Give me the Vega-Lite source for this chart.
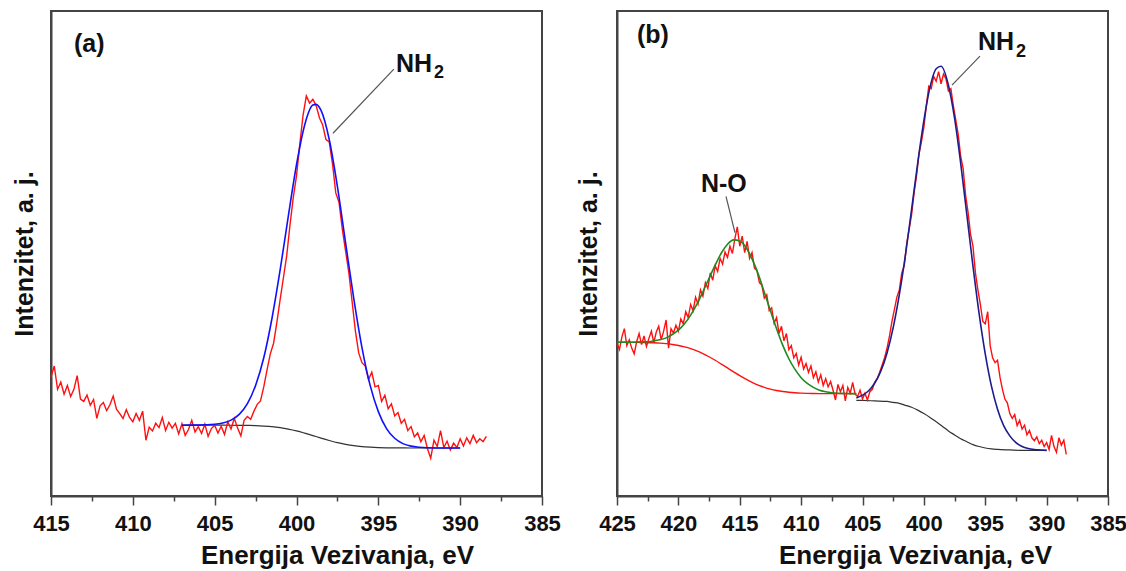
{
  "$schema": "https://vega.github.io/schema/vega-lite/v6.json",
  "background": "white",
  "padding": {"left": 11, "top": 10, "right": 5, "bottom": 0},
  "bounds": "flush",
  "spacing": 75,
  "config": {
    "view": {"stroke": "#444", "strokeWidth": 2},
    "font": "Liberation Sans"
  },
  "datasets": {
    "a_raw": [
      {"x":415.0,"y":24.5},{"x":414.8,"y":26.8},{"x":414.6,"y":22.0},{"x":414.4,"y":23.5},{"x":414.2,"y":21.0},{"x":414.0,"y":22.8},{"x":413.8,"y":20.5},{"x":413.6,"y":22.0},{"x":413.4,"y":24.8},{"x":413.2,"y":20.0},
      {"x":413.0,"y":19.5},{"x":412.8,"y":20.8},{"x":412.6,"y":18.7},{"x":412.4,"y":19.9},{"x":412.2,"y":16.0},{"x":412.0,"y":18.6},{"x":411.8,"y":19.3},{"x":411.6,"y":17.6},{"x":411.4,"y":18.8},{"x":411.2,"y":20.6},
      {"x":411.0,"y":17.9},{"x":410.8,"y":17.0},{"x":410.6,"y":16.0},{"x":410.4,"y":17.8},{"x":410.2,"y":16.2},{"x":410.0,"y":15.3},{"x":409.8,"y":17.0},{"x":409.6,"y":15.6},{"x":409.4,"y":17.5},{"x":409.2,"y":11.5},
      {"x":409.0,"y":14.2},{"x":408.8,"y":13.4},{"x":408.6,"y":15.0},{"x":408.4,"y":14.1},{"x":408.2,"y":16.2},{"x":408.0,"y":13.5},{"x":407.8,"y":15.2},{"x":407.6,"y":14.0},{"x":407.4,"y":15.0},{"x":407.2,"y":12.8},
      {"x":407.0,"y":14.9},{"x":406.8,"y":12.5},{"x":406.6,"y":13.7},{"x":406.4,"y":15.6},{"x":406.2,"y":13.2},{"x":406.0,"y":14.3},{"x":405.8,"y":12.9},{"x":405.6,"y":14.8},{"x":405.4,"y":12.3},{"x":405.2,"y":13.9},
      {"x":405.0,"y":14.6},{"x":404.8,"y":13.0},{"x":404.6,"y":14.4},{"x":404.4,"y":12.7},{"x":404.2,"y":15.3},{"x":404.0,"y":13.8},{"x":403.8,"y":16.0},{"x":403.6,"y":14.0},{"x":403.4,"y":12.4},{"x":403.2,"y":15.6},
      {"x":403.0,"y":16.4},{"x":402.8,"y":15.8},{"x":402.6,"y":17.5},{"x":402.4,"y":18.9},{"x":402.2,"y":19.6},{"x":402.0,"y":22.5},{"x":401.8,"y":26.0},{"x":401.6,"y":29.3},{"x":401.4,"y":31.5},{"x":401.2,"y":35.8},
      {"x":401.0,"y":40.5},{"x":400.8,"y":45.0},{"x":400.6,"y":49.5},{"x":400.4,"y":55.8},{"x":400.2,"y":61.5},{"x":400.0,"y":66.0},{"x":399.8,"y":72.5},{"x":399.6,"y":78.5},{"x":399.4,"y":82.5},{"x":399.2,"y":81.0},
      {"x":399.0,"y":81.8},{"x":398.8,"y":80.5},{"x":398.6,"y":78.0},{"x":398.4,"y":76.5},{"x":398.2,"y":73.5},{"x":398.0,"y":73.0},{"x":397.8,"y":68.5},{"x":397.6,"y":62.5},{"x":397.4,"y":60.5},{"x":397.2,"y":55.0},
      {"x":397.0,"y":50.5},{"x":396.8,"y":46.0},{"x":396.6,"y":40.0},{"x":396.4,"y":34.0},{"x":396.2,"y":29.5},{"x":396.0,"y":27.5},{"x":395.8,"y":26.8},{"x":395.6,"y":24.0},{"x":395.4,"y":25.5},{"x":395.2,"y":22.5},
      {"x":395.0,"y":22.8},{"x":394.8,"y":19.5},{"x":394.6,"y":20.8},{"x":394.4,"y":18.0},{"x":394.2,"y":19.0},{"x":394.0,"y":16.5},{"x":393.8,"y":17.2},{"x":393.6,"y":15.0},{"x":393.4,"y":15.8},{"x":393.2,"y":13.5},
      {"x":393.0,"y":14.3},{"x":392.8,"y":12.2},{"x":392.6,"y":13.0},{"x":392.4,"y":11.2},{"x":392.2,"y":12.5},{"x":392.0,"y":9.8},{"x":391.8,"y":7.8},{"x":391.6,"y":11.5},{"x":391.4,"y":10.2},{"x":391.2,"y":13.5},
      {"x":391.0,"y":10.0},{"x":390.8,"y":11.3},{"x":390.6,"y":9.5},{"x":390.4,"y":10.9},{"x":390.2,"y":10.0},{"x":390.0,"y":11.8},{"x":389.8,"y":10.3},{"x":389.6,"y":12.0},{"x":389.4,"y":10.8},{"x":389.2,"y":12.5},
      {"x":389.0,"y":11.0},{"x":388.8,"y":11.8},{"x":388.6,"y":11.2},{"x":388.4,"y":12.3}
    ],
    "a_fit": [
      {"x":407,"y":14.6},{"x":406,"y":14.62},{"x":405,"y":14.78},{"x":404.5,"y":15.06},{"x":404,"y":15.65},{"x":403.5,"y":16.84},{"x":403,"y":19.05},{"x":402.5,"y":22.8},{"x":402,"y":28.5},{"x":401.5,"y":36.6},
      {"x":401,"y":46.6},{"x":400.5,"y":57.7},{"x":400,"y":68.3},{"x":399.5,"y":76.5},{"x":399,"y":80.6},{"x":398.8,"y":80.75},{"x":398.5,"y":79.5},{"x":398,"y":73.5},{"x":397.5,"y":63.8},{"x":397,"y":52.2},
      {"x":396.5,"y":40.7},{"x":396,"y":30.6},{"x":395.5,"y":22.8},{"x":395,"y":17.4},{"x":394.5,"y":13.9},{"x":394,"y":11.9},{"x":393.5,"y":10.8},{"x":393,"y":10.28},{"x":392.5,"y":10.05},{"x":392,"y":9.95},
      {"x":391,"y":9.9},{"x":390,"y":9.9}
    ],
    "a_bg": [
      {"x":407,"y":14.6},{"x":405,"y":14.6},{"x":404,"y":14.59},{"x":403,"y":14.55},{"x":402.5,"y":14.51},{"x":402,"y":14.42},{"x":401.5,"y":14.29},{"x":401,"y":14.08},{"x":400.5,"y":13.79},{"x":400,"y":13.42},
      {"x":399.5,"y":12.96},{"x":399,"y":12.46},{"x":398.5,"y":11.94},{"x":398,"y":11.45},{"x":397.5,"y":11.0},{"x":397,"y":10.65},{"x":396.5,"y":10.37},{"x":396,"y":10.18},{"x":395.5,"y":10.06},{"x":395,"y":9.98},
      {"x":394.5,"y":9.94},{"x":394,"y":9.92},{"x":393,"y":9.9},{"x":390,"y":9.9}
    ],
    "a_lab": [
      {"x":413.6,"y":91.5,"t":"(a)"},
      {"x":393.92,"y":87.4,"t":"NH"}
    ],
    "a_sub": [
      {"x":391.6,"y":86.2,"t":"2"}
    ],
    "a_lead": [
      {"x":394.05,"y":88.0,"x2":397.77,"y2":74.8}
    ],
    "b_raw": [
      {"x":425.0,"y":31.5},{"x":424.8,"y":30.2},{"x":424.6,"y":32.8},{"x":424.4,"y":34.5},{"x":424.2,"y":31.0},{"x":424.0,"y":32.2},{"x":423.8,"y":30.5},{"x":423.6,"y":29.3},{"x":423.4,"y":31.8},{"x":423.2,"y":33.5},
      {"x":423.0,"y":31.2},{"x":422.8,"y":33.0},{"x":422.6,"y":30.8},{"x":422.4,"y":32.5},{"x":422.2,"y":34.0},{"x":422.0,"y":31.6},{"x":421.8,"y":33.8},{"x":421.6,"y":35.0},{"x":421.4,"y":32.2},{"x":421.2,"y":34.0},
      {"x":421.0,"y":36.3},{"x":420.8,"y":30.5},{"x":420.6,"y":34.5},{"x":420.4,"y":33.6},{"x":420.2,"y":35.2},{"x":420.0,"y":34.0},{"x":419.8,"y":36.5},{"x":419.6,"y":35.5},{"x":419.4,"y":38.0},{"x":419.2,"y":36.8},
      {"x":419.0,"y":39.5},{"x":418.8,"y":38.2},{"x":418.6,"y":41.0},{"x":418.4,"y":39.6},{"x":418.2,"y":42.5},{"x":418.0,"y":41.2},{"x":417.8,"y":44.0},{"x":417.6,"y":42.8},{"x":417.4,"y":46.0},{"x":417.2,"y":44.5},
      {"x":417.0,"y":47.5},{"x":416.8,"y":46.3},{"x":416.6,"y":49.0},{"x":416.4,"y":47.8},{"x":416.2,"y":50.3},{"x":416.0,"y":49.2},{"x":415.8,"y":51.5},{"x":415.6,"y":50.0},{"x":415.4,"y":53.0},{"x":415.2,"y":55.5},
      {"x":415.0,"y":51.5},{"x":414.8,"y":53.6},{"x":414.6,"y":50.2},{"x":414.4,"y":52.5},{"x":414.2,"y":49.0},{"x":414.0,"y":50.2},{"x":413.8,"y":47.0},{"x":413.6,"y":46.5},{"x":413.4,"y":44.0},{"x":413.2,"y":43.5},
      {"x":413.0,"y":40.8},{"x":412.8,"y":41.5},{"x":412.6,"y":38.2},{"x":412.4,"y":38.8},{"x":412.2,"y":35.6},{"x":412.0,"y":36.8},{"x":411.8,"y":33.5},{"x":411.6,"y":35.0},{"x":411.4,"y":32.0},{"x":411.2,"y":33.5},
      {"x":411.0,"y":30.2},{"x":410.8,"y":31.0},{"x":410.6,"y":28.5},{"x":410.4,"y":29.4},{"x":410.2,"y":27.0},{"x":410.0,"y":28.6},{"x":409.8,"y":26.2},{"x":409.6,"y":27.3},{"x":409.4,"y":25.5},{"x":409.2,"y":26.8},
      {"x":409.0,"y":24.4},{"x":408.8,"y":25.6},{"x":408.6,"y":23.5},{"x":408.4,"y":25.0},{"x":408.2,"y":22.8},{"x":408.0,"y":24.2},{"x":407.8,"y":22.5},{"x":407.6,"y":23.6},{"x":407.4,"y":21.8},{"x":407.2,"y":19.8},
      {"x":407.0,"y":23.0},{"x":406.8,"y":21.5},{"x":406.6,"y":22.8},{"x":406.4,"y":19.6},{"x":406.2,"y":22.4},{"x":406.0,"y":21.2},{"x":405.8,"y":23.4},{"x":405.6,"y":21.0},{"x":405.4,"y":20.5},{"x":405.2,"y":21.8},
      {"x":405.0,"y":20.0},{"x":404.8,"y":21.2},{"x":404.6,"y":19.8},{"x":404.4,"y":21.5},{"x":404.2,"y":22.0},{"x":404.0,"y":23.5},{"x":403.8,"y":24.2},{"x":403.6,"y":25.5},{"x":403.4,"y":27.0},{"x":403.2,"y":28.5},
      {"x":403.0,"y":30.5},{"x":402.8,"y":33.0},{"x":402.6,"y":36.0},{"x":402.4,"y":38.5},{"x":402.2,"y":41.0},{"x":402.0,"y":42.5},{"x":401.8,"y":46.0},{"x":401.6,"y":47.5},{"x":401.4,"y":52.0},{"x":401.2,"y":55.0},
      {"x":401.0,"y":58.0},{"x":400.8,"y":62.5},{"x":400.6,"y":66.0},{"x":400.4,"y":70.5},{"x":400.2,"y":73.0},{"x":400.0,"y":76.0},{"x":399.8,"y":80.5},{"x":399.6,"y":84.5},{"x":399.4,"y":84.0},{"x":399.2,"y":86.5},
      {"x":399.0,"y":85.5},{"x":398.8,"y":87.5},{"x":398.6,"y":85.0},{"x":398.4,"y":87.0},{"x":398.2,"y":86.0},{"x":398.0,"y":83.5},{"x":397.8,"y":84.0},{"x":397.6,"y":80.5},{"x":397.4,"y":77.5},{"x":397.2,"y":74.5},
      {"x":397.0,"y":70.0},{"x":396.8,"y":67.5},{"x":396.6,"y":62.0},{"x":396.4,"y":58.5},{"x":396.2,"y":54.0},{"x":396.0,"y":51.5},{"x":395.8,"y":46.0},{"x":395.6,"y":42.5},{"x":395.4,"y":39.5},{"x":395.2,"y":36.0},
      {"x":395.0,"y":35.5},{"x":394.8,"y":38.0},{"x":394.6,"y":31.0},{"x":394.4,"y":28.5},{"x":394.2,"y":27.5},{"x":394.0,"y":28.0},{"x":393.8,"y":24.5},{"x":393.6,"y":22.0},{"x":393.4,"y":20.0},{"x":393.2,"y":19.2},
      {"x":393.0,"y":17.0},{"x":392.8,"y":16.0},{"x":392.6,"y":16.8},{"x":392.4,"y":14.5},{"x":392.2,"y":15.6},{"x":392.0,"y":13.8},{"x":391.8,"y":14.6},{"x":391.6,"y":12.6},{"x":391.4,"y":13.5},{"x":391.2,"y":12.0},
      {"x":391.0,"y":11.4},{"x":390.8,"y":12.2},{"x":390.6,"y":10.8},{"x":390.4,"y":11.5},{"x":390.2,"y":10.2},{"x":390.0,"y":11.0},{"x":389.8,"y":9.6},{"x":389.6,"y":12.5},{"x":389.4,"y":10.2},{"x":389.2,"y":9.0},
      {"x":389.0,"y":12.0},{"x":388.8,"y":10.5},{"x":388.6,"y":11.5},{"x":388.4,"y":8.6}
    ],
    "b_green": [
      {"x":425,"y":31.7},{"x":424,"y":31.7},{"x":423,"y":31.8},{"x":422.5,"y":31.8},{"x":422,"y":32.0},{"x":421.5,"y":32.2},{"x":421,"y":32.6},{"x":420.5,"y":33.3},{"x":420,"y":34.2},{"x":419.5,"y":35.5},
      {"x":419,"y":37.3},{"x":418.5,"y":39.5},{"x":418,"y":42.1},{"x":417.5,"y":44.9},{"x":417,"y":47.6},{"x":416.5,"y":50.1},{"x":416,"y":51.9},{"x":415.5,"y":52.8},{"x":415,"y":52.6},{"x":414.5,"y":51.3},
      {"x":414,"y":48.9},{"x":413.5,"y":45.8},{"x":413,"y":42.0},{"x":412.5,"y":38.2},{"x":412,"y":34.5},{"x":411.5,"y":31.1},{"x":411,"y":28.3},{"x":410.5,"y":26.1},{"x":410,"y":24.4},{"x":409.5,"y":23.2},
      {"x":409,"y":22.4},{"x":408.5,"y":21.8},{"x":408,"y":21.5},{"x":407.5,"y":21.3},{"x":407,"y":21.2},{"x":406.5,"y":21.15},{"x":406,"y":21.1},{"x":405.5,"y":21.1}
    ],
    "b_redbg": [
      {"x":425,"y":31.7},{"x":424,"y":31.69},{"x":423,"y":31.66},{"x":422,"y":31.59},{"x":421.5,"y":31.52},{"x":421,"y":31.41},{"x":420.5,"y":31.25},{"x":420,"y":31.04},{"x":419.5,"y":30.76},{"x":419,"y":30.39},
      {"x":418.5,"y":29.92},{"x":418,"y":29.36},{"x":417.5,"y":28.71},{"x":417,"y":27.99},{"x":416.5,"y":27.2},{"x":416,"y":26.4},{"x":415.5,"y":25.6},{"x":415,"y":24.81},{"x":414.5,"y":24.09},{"x":414,"y":23.44},
      {"x":413.5,"y":22.88},{"x":413,"y":22.41},{"x":412.5,"y":22.04},{"x":412,"y":21.76},{"x":411.5,"y":21.54},{"x":411,"y":21.39},{"x":410.5,"y":21.28},{"x":410,"y":21.21},{"x":409,"y":21.13},{"x":408,"y":21.11},
      {"x":407,"y":21.1},{"x":405.5,"y":21.1}
    ],
    "b_navy": [
      {"x":405.5,"y":20.2},{"x":405,"y":20.8},{"x":404.5,"y":21.7},{"x":404,"y":23.3},{"x":403.5,"y":25.8},{"x":403,"y":29.5},{"x":402.5,"y":34.7},{"x":402,"y":41.5},{"x":401.5,"y":49.7},{"x":401,"y":59.1},
      {"x":400.5,"y":68.7},{"x":400,"y":77.4},{"x":399.5,"y":84.3},{"x":399,"y":88.1},{"x":398.6,"y":88.6},{"x":398,"y":84.7},{"x":397.5,"y":77.9},{"x":397,"y":68.6},{"x":396.5,"y":58.0},{"x":396,"y":47.4},
      {"x":395.5,"y":37.6},{"x":395,"y":29.3},{"x":394.5,"y":22.7},{"x":394,"y":17.9},{"x":393.5,"y":14.5},{"x":393,"y":12.4},{"x":392.5,"y":11.0},{"x":392,"y":10.2},{"x":391.5,"y":9.8},{"x":391,"y":9.6},
      {"x":390.5,"y":9.5},{"x":390,"y":9.4}
    ],
    "b_black": [
      {"x":405.5,"y":19.7},{"x":405,"y":19.7},{"x":404,"y":19.6},{"x":403,"y":19.5},{"x":402.5,"y":19.3},{"x":402,"y":19.1},{"x":401.5,"y":18.7},{"x":401,"y":18.3},{"x":400.5,"y":17.7},{"x":400,"y":17.0},
      {"x":399.5,"y":16.2},{"x":399,"y":15.3},{"x":398.5,"y":14.4},{"x":398,"y":13.4},{"x":397.5,"y":12.6},{"x":397,"y":11.8},{"x":396.5,"y":11.2},{"x":396,"y":10.6},{"x":395.5,"y":10.2},{"x":395,"y":9.9},
      {"x":394.5,"y":9.7},{"x":394,"y":9.6},{"x":393,"y":9.5},{"x":392,"y":9.4},{"x":390,"y":9.4}
    ],
    "b_lab": [
      {"x":423.37,"y":93.4,"t":"(b)"},
      {"x":418.16,"y":62.6,"t":"N-O"},
      {"x":395.59,"y":91.9,"t":"NH"}
    ],
    "b_sub": [
      {"x":392.5,"y":90.5,"t":"2"}
    ],
    "b_lead": [
      {"x":395.43,"y":90.7,"x2":397.71,"y2":84.7},
      {"x":416.12,"y":61.8,"x2":415.39,"y2":54.3}
    ]
  },
  "hconcat": [
    {
      "width": 491,
      "height": 485,
      "encoding": {
        "x": {
          "field": "x", "type": "quantitative",
          "scale": {"domain": [385, 415], "reverse": true, "nice": false, "zero": false},
          "axis": {
            "title": "Energija Vezivanja, eV",
            "values": [385, 387.5, 390, 392.5, 395, 397.5, 400, 402.5, 405, 407.5, 410, 412.5, 415],
            "labelExpr": "datum.value % 5 === 0 ? format(datum.value, 'd') : ''",
            "tickSize": {"condition": {"test": "datum.value % 5 === 0", "value": 9}, "value": 5},
            "tickColor": "#444", "tickWidth": 1.5,
            "domainColor": "#444", "domainWidth": 2,
            "grid": false,
            "labelFont": "Liberation Sans Narrow, Arial Narrow, Liberation Sans",
            "labelFontWeight": "bold", "labelFontSize": 22, "labelColor": "#111",
            "labelPadding": 8, "labelOverlap": false, "labelFlush": false,
            "titleFont": "Liberation Sans", "titleFontWeight": "bold", "titleFontSize": 26, "titleColor": "#111",
            "titleX": 286, "titleY": 67, "titleBaseline": "alphabetic", "titleAlign": "center"
          }
        },
        "y": {
          "field": "y", "type": "quantitative",
          "scale": {"domain": [0, 100], "nice": false, "zero": false},
          "axis": {
            "title": "Intenzitet, a. j.",
            "ticks": false, "labels": false, "grid": false,
            "domainColor": "#444", "domainWidth": 2,
            "titleFont": "Liberation Sans", "titleFontWeight": "bold", "titleFontSize": 25, "titleColor": "#111",
            "titlePadding": 19, "titleBaseline": "alphabetic"
          }
        }
      },
      "layer": [
        {"data": {"name": "a_bg"}, "mark": {"type": "line", "color": "#333", "strokeWidth": 1.2, "interpolate": "monotone"}},
        {"data": {"name": "a_raw"}, "mark": {"type": "line", "color": "#ff1010", "strokeWidth": 1.4}},
        {"data": {"name": "a_fit"}, "mark": {"type": "line", "color": "#1010ff", "strokeWidth": 1.6, "interpolate": "monotone"}},
        {"data": {"name": "a_lead"}, "mark": {"type": "rule", "color": "#555", "strokeWidth": 1.2},
         "encoding": {"x2": {"field": "x2"}, "y2": {"field": "y2"}}},
        {"data": {"name": "a_lab"}, "mark": {"type": "text", "align": "left", "baseline": "alphabetic", "font": "Liberation Sans", "fontSize": 25, "fontWeight": "bold", "color": "#111"},
         "encoding": {"text": {"field": "t"}}},
        {"data": {"name": "a_sub"}, "mark": {"type": "text", "align": "left", "baseline": "alphabetic", "font": "Liberation Sans", "fontSize": 18, "fontWeight": "bold", "color": "#111"},
         "encoding": {"text": {"field": "t"}}}
      ]
    },
    {
      "width": 491,
      "height": 485,
      "encoding": {
        "x": {
          "field": "x", "type": "quantitative",
          "scale": {"domain": [385, 425], "reverse": true, "nice": false, "zero": false},
          "axis": {
            "title": "Energija Vezivanja, eV",
            "values": [385, 387.5, 390, 392.5, 395, 397.5, 400, 402.5, 405, 407.5, 410, 412.5, 415, 417.5, 420, 422.5, 425],
            "labelExpr": "datum.value % 5 === 0 ? format(datum.value, 'd') : ''",
            "tickSize": {"condition": {"test": "datum.value % 5 === 0", "value": 9}, "value": 5},
            "tickColor": "#444", "tickWidth": 1.5,
            "domainColor": "#444", "domainWidth": 2,
            "grid": false,
            "labelFont": "Liberation Sans Narrow, Arial Narrow, Liberation Sans",
            "labelFontWeight": "bold", "labelFontSize": 22, "labelColor": "#111",
            "labelPadding": 8, "labelOverlap": false, "labelFlush": false,
            "titleFont": "Liberation Sans", "titleFontWeight": "bold", "titleFontSize": 26, "titleColor": "#111",
            "titleX": 298, "titleY": 67, "titleBaseline": "alphabetic", "titleAlign": "center"
          }
        },
        "y": {
          "field": "y", "type": "quantitative",
          "scale": {"domain": [0, 100], "nice": false, "zero": false},
          "axis": {
            "title": "Intenzitet, a. j.",
            "ticks": false, "labels": false, "grid": false,
            "domainColor": "#444", "domainWidth": 2,
            "titleFont": "Liberation Sans", "titleFontWeight": "bold", "titleFontSize": 25, "titleColor": "#111",
            "titlePadding": 21, "titleBaseline": "alphabetic"
          }
        }
      },
      "layer": [
        {"data": {"name": "b_black"}, "mark": {"type": "line", "color": "#333", "strokeWidth": 1.2, "interpolate": "monotone"}},
        {"data": {"name": "b_redbg"}, "mark": {"type": "line", "color": "#ff1010", "strokeWidth": 1.4, "interpolate": "monotone"}},
        {"data": {"name": "b_raw"}, "mark": {"type": "line", "color": "#ff1010", "strokeWidth": 1.4}},
        {"data": {"name": "b_green"}, "mark": {"type": "line", "color": "#1f8a1f", "strokeWidth": 1.6, "interpolate": "monotone"}},
        {"data": {"name": "b_navy"}, "mark": {"type": "line", "color": "#1c1c8e", "strokeWidth": 1.6, "interpolate": "monotone"}},
        {"data": {"name": "b_lead"}, "mark": {"type": "rule", "color": "#555", "strokeWidth": 1.2},
         "encoding": {"x2": {"field": "x2"}, "y2": {"field": "y2"}}},
        {"data": {"name": "b_lab"}, "mark": {"type": "text", "align": "left", "baseline": "alphabetic", "font": "Liberation Sans", "fontSize": 25, "fontWeight": "bold", "color": "#111"},
         "encoding": {"text": {"field": "t"}}},
        {"data": {"name": "b_sub"}, "mark": {"type": "text", "align": "left", "baseline": "alphabetic", "font": "Liberation Sans", "fontSize": 18, "fontWeight": "bold", "color": "#111"},
         "encoding": {"text": {"field": "t"}}}
      ]
    }
  ]
}
